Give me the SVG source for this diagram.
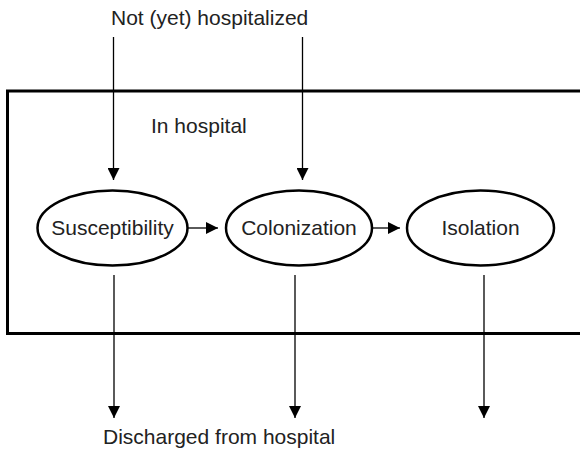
<svg xmlns="http://www.w3.org/2000/svg" width="580" height="454" viewBox="0 0 580 454">
  <defs>
    <marker id="arrow" viewBox="0 0 12 12" refX="12" refY="6" markerWidth="12" markerHeight="12" markerUnits="userSpaceOnUse" orient="auto">
      <path d="M0,0 L12,6 L0,12 Z" fill="#000"/>
    </marker>
    <style>
      .lbl { font-family: "Liberation Sans", Arial, Helvetica, sans-serif; font-size: 21px; fill: #222; }
      .node ellipse { fill: #fff; stroke: #000; stroke-width: 2.5; }
      .conn line { stroke: #000; stroke-width: 1.3; marker-end: url(#arrow); }
    </style>
  </defs>
  <rect width="580" height="454" fill="#fff"/>

  <!-- hospital boundary -->
  <g id="hospital">
    <rect x="7.5" y="91" width="580" height="242.5" fill="none" stroke="#000" stroke-width="3"/>
    <text class="lbl" x="151" y="133">In hospital</text>
  </g>

  <!-- outside labels -->
  <g id="outside-in">
    <text class="lbl" x="111" y="25">Not (yet) hospitalized</text>
  </g>
  <g id="outside-out">
    <text class="lbl" x="103" y="443.5">Discharged from hospital</text>
  </g>

  <!-- states -->
  <g id="susceptibility" class="node">
    <ellipse cx="112.5" cy="228" rx="75" ry="37.5"/>
    <text class="lbl" x="112.5" y="235" text-anchor="middle">Susceptibility</text>
  </g>
  <g id="colonization" class="node">
    <ellipse cx="299" cy="228" rx="73" ry="37.5"/>
    <text class="lbl" x="299" y="235" text-anchor="middle">Colonization</text>
  </g>
  <g id="isolation" class="node">
    <ellipse cx="480.5" cy="228" rx="73.5" ry="37.5"/>
    <text class="lbl" x="480.5" y="235" text-anchor="middle">Isolation</text>
  </g>

  <!-- connectors -->
  <g id="connectors" class="conn">
    <line x1="113.5" y1="37" x2="113.5" y2="180"/>
    <line x1="302.5" y1="37" x2="302.5" y2="180"/>
    <line x1="188" y1="228" x2="218" y2="228"/>
    <line x1="372" y1="228" x2="400" y2="228"/>
    <line x1="114" y1="275" x2="114" y2="418"/>
    <line x1="295" y1="275" x2="295" y2="418"/>
    <line x1="484" y1="275" x2="484" y2="418"/>
  </g>
</svg>
